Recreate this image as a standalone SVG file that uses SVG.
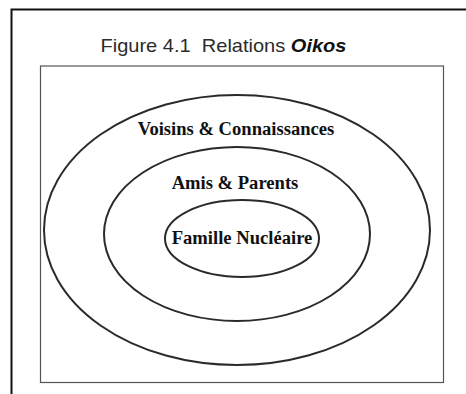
<svg xmlns="http://www.w3.org/2000/svg" width="466" height="394" viewBox="0 0 466 394">
<style>
.ring{fill:none;stroke:#2a2a2a;stroke-width:2}
.lbl{font-family:"Liberation Serif","Times New Roman",serif;font-weight:bold;font-size:18.6px;fill:#111;text-anchor:middle}
</style>
<rect width="466" height="394" fill="#fff"/>
<path d="M11.5,394 V9.5 H466" fill="none" stroke="#111" stroke-width="2"/>
<text x="100.5" y="51.5" font-family="'Liberation Sans',Arial,sans-serif" font-size="18.5" fill="#2b2b2b" textLength="246" lengthAdjust="spacingAndGlyphs" xml:space="preserve">Figure 4.1  Relations <tspan font-weight="bold" font-style="italic" fill="#111">Oikos</tspan></text>
<rect x="40.5" y="66" width="403" height="316.5" fill="none" stroke="#555" stroke-width="1.2"/>
<g id="voisins">
<ellipse class="ring" cx="237" cy="230" rx="193" ry="135"/>
<text class="lbl" x="236" y="135">Voisins &amp; Connaissances</text>
</g>
<g id="amis">
<ellipse class="ring" cx="237" cy="234" rx="133" ry="87"/>
<text class="lbl" x="235" y="188.5">Amis &amp; Parents</text>
</g>
<g id="famille">
<ellipse class="ring" cx="242" cy="238.5" rx="77" ry="38.5"/>
<text class="lbl" x="242" y="243.5">Famille Nucléaire</text>
</g>
<g id="connectors"/>
</svg>
